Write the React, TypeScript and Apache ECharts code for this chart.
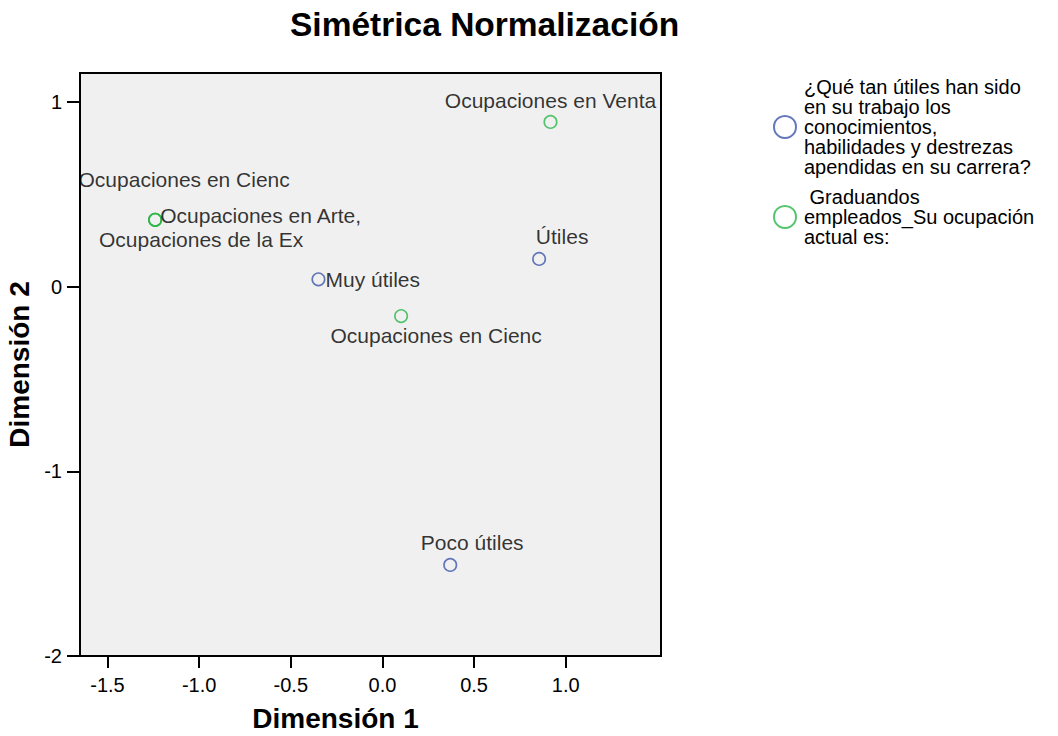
import React, { useEffect, useRef } from "react";
import * as echarts from "echarts";

const FONT = "Liberation Sans, Arial, sans-serif";

const seriesNames = [
  "¿Qué tan útiles han sido\nen su trabajo los\nconocimientos,\nhabilidades y destrezas\napendidas en su carrera?",
  " Graduandos\nempleados_Su ocupación\nactual es:",
];

// Category points for the first variable (Dimensión 1, Dimensión 2)
const utilLabels = ["Muy útiles", "Útiles", "Poco útiles"];
const utilDim1 = [-0.349, 0.855, 0.37];
const utilDim2 = [0.04, 0.15, -1.507];

// Category points for the second variable
const occLabels = [
  "Ocupaciones en Venta",
  "Ocupaciones en Cienc",
  "Ocupaciones en Cienc",
  "Ocupaciones en Arte,",
  "Ocupaciones de la Ex",
];
const occDim1 = [0.917, 0.102, -1.24, -1.24, -1.24];
const occDim2 = [0.892, -0.159, 0.362, 0.362, 0.362];

const xTicks = [-1.5, -1.0, -0.5, 0.0, 0.5, 1.0];
const yTicks = [-2, -1, 0, 1];

const BLUE = "#3d56ab";
const GREEN = "#2bb64a";

// label placement per point (presentation only)
const utilLabelCfg = [
  { position: "right", distance: 0, offset: [0, 0] },
  { position: "inside", offset: [23, -22] },
  { position: "inside", offset: [22, -22] },
];
const occLabelCfg = [
  { position: "inside", offset: [29, -40] },
  { position: "inside", offset: [35, 19] },
  { position: "inside", offset: [29, -40] },
  { position: "right", distance: -2, offset: [0, -4] },
  { position: "inside", offset: [46, 20] },
];
occLabelCfg[0] = { position: "inside", offset: [0, -21] };

export default function App() {
  const ref = useRef<HTMLDivElement>(null);
  useEffect(() => {
    if (!ref.current) return;
    const chart = echarts.init(ref.current, null, { renderer: "svg" });
    const labelBase = { show: true, color: "#000", fontFamily: FONT, fontSize: 21 };
    const mk = (xs: number[], ys: number[], names: string[], cfg: any[]) =>
      xs.map((x, i) => ({
        value: [x, ys[i]],
        name: names[i],
        label: { ...labelBase, formatter: names[i], ...cfg[i] },
      }));
    chart.setOption({
      animation: false,
      backgroundColor: "#fff",
      title: {
        text: "Simétrica Normalización",
        left: 285,
        top: 2,
        textStyle: { fontFamily: FONT, fontSize: 33.5, fontWeight: "bold", color: "#000" },
      },
      legend: {
        orient: "vertical",
        left: 773,
        top: 77,
        padding: 0,
        itemWidth: 22,
        itemHeight: 22,
        itemGap: 10,
        itemStyle: { borderWidth: 2 },
        textStyle: { fontFamily: FONT, fontSize: 20, lineHeight: 20, color: "#000", padding: [0, 0, 0, 3] },
        data: [
          { name: seriesNames[0], icon: "circle" },
          { name: seriesNames[1], icon: "circle" },
        ],
      },
      grid: {
        left: 80,
        right: 397,
        top: 73,
        bottom: 80,
        outerBoundsMode: "none",
        containLabel: false,
        show: true,
        backgroundColor: "#f0f0f0",
        borderColor: "#000",
        borderWidth: 2,
      },
      xAxis: {
        type: "value",
        min: -1.65,
        max: 1.52,
        name: "Dimensión 1",
        nameLocation: "middle",
        nameGap: 48,
        nameTextStyle: { fontFamily: FONT, fontSize: 28, fontWeight: "bold", color: "#000", padding: [0, 70, 0, 0] },
        axisLine: { show: true, onZero: false, lineStyle: { color: "#000", width: 2 } },
        axisTick: { show: true, customValues: xTicks, length: 12, lineStyle: { color: "#000", width: 2 } },
        axisLabel: {
          customValues: xTicks,
          formatter: (v: number) => v.toFixed(1),
          fontFamily: FONT,
          fontSize: 20,
          color: "#000",
          margin: 19,
        },
        splitLine: { show: false },
      },
      yAxis: {
        type: "value",
        min: -2,
        max: 1.157,
        name: "Dimensión 2",
        nameLocation: "middle",
        nameGap: 46,
        nameTextStyle: { fontFamily: FONT, fontSize: 28, fontWeight: "bold", color: "#000" },
        axisLine: { show: true, onZero: false, lineStyle: { color: "#000", width: 2 } },
        axisTick: { show: true, customValues: yTicks, length: 13, lineStyle: { color: "#000", width: 2 } },
        axisLabel: {
          customValues: yTicks,
          formatter: (v: number) => String(v),
          fontFamily: FONT,
          fontSize: 20,
          color: "#000",
          margin: 18,
        },
        splitLine: { show: false },
      },
      series: [
        {
          name: seriesNames[0],
          type: "scatter",
          symbol: "circle",
          symbolSize: 12.5,
          itemStyle: { color: "transparent", borderColor: BLUE, borderWidth: 1.6 },
          data: mk(utilDim1, utilDim2, utilLabels, utilLabelCfg),
        },
        {
          name: seriesNames[1],
          type: "scatter",
          symbol: "circle",
          symbolSize: 12.5,
          itemStyle: { color: "transparent", borderColor: GREEN, borderWidth: 1.6 },
          data: mk(occDim1, occDim2, occLabels, occLabelCfg),
        },
      ],
    });
    return () => chart.dispose();
  }, []);
  return <div ref={ref} style={{ position: "fixed", left: 0, top: 0, width: 1058, height: 736 }} />;
}
